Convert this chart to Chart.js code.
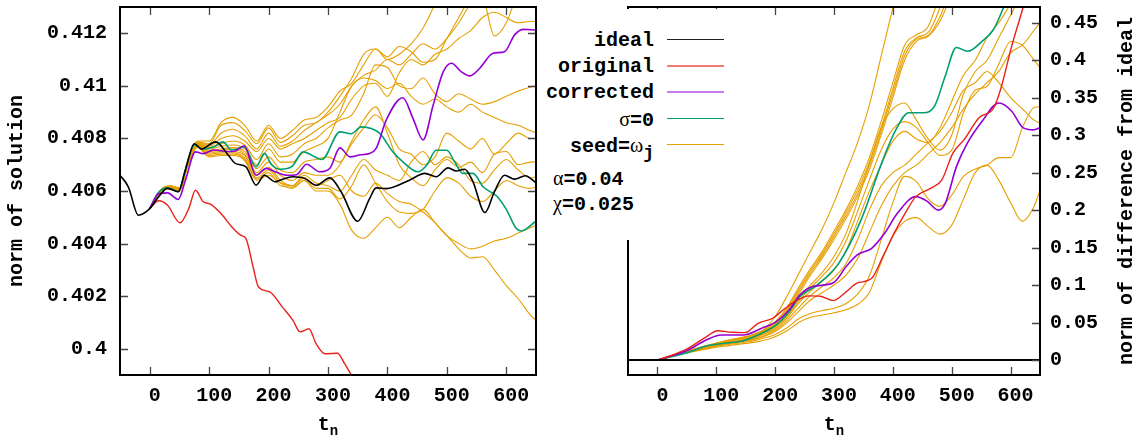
<!DOCTYPE html>
<html>
<head>
<meta charset="utf-8">
<script src="https://cdn.jsdelivr.net/npm/chart.js@4.4.1/dist/chart.umd.min.js"></script>
<style>
  body { margin: 0; background: #fff; }
  #wrap { position: relative; width: 1137px; height: 440px; overflow: hidden;
          font-family: 'Liberation Mono', 'DejaVu Sans Mono', monospace; font-weight: bold; font-size: 20px; color: #000; }
  canvas { position: absolute; top: 0; }
  .lbl { position: absolute; white-space: nowrap; line-height: 26px; }
  .gk { font-family: 'Liberation Serif', 'DejaVu Serif', serif; font-weight: normal; }
  .key { position: absolute; left: 667px; width: 57px; height: 1.6px; }
  .ytitle { position: absolute; width: 400px; text-align: center; line-height: 24px; transform: rotate(-90deg); white-space: nowrap; }
  .xtitle { position: absolute; width: 200px; text-align: center; line-height: 24px; }
  .sub { position: relative; top: 5px; font-size: 14px; }
</style>
</head>
<body>
<div id="wrap">
  <canvas id="leftChart" width="560" height="440" style="left:0"></canvas>
  <canvas id="rightChart" width="577" height="440" style="left:560px"></canvas>

  <div class="ytitle" style="left:-183px; top:179px">norm of solution</div>
  <div class="ytitle" style="left:927px; top:179px">norm of difference from ideal</div>
  <div class="xtitle" style="left:228px; top:413px">t<span class="sub">n</span></div>
  <div class="xtitle" style="left:734px; top:413px">t<span class="sub">n</span></div>

  <div style="position:absolute; left:540px; top:9px; width:195px; height:231px; background:#fff"></div>
  <div class="lbl" style="right:483px; top:28px">ideal</div>
  <div class="lbl" style="right:483px; top:54px">original</div>
  <div class="lbl" style="right:483px; top:80px">corrected</div>
  <div class="lbl" style="right:483px; top:106px"><span class="gk">σ</span>=0</div>
  <div class="lbl" style="right:483px; top:132px">seed=<span class="gk">ω</span><span style="position:relative; top:6px; font-size:18px">j</span></div>
  <div class="key" style="top:38.5px; background:#222"></div>
  <div class="key" style="top:65px; background:#f07b72"></div>
  <div class="key" style="top:91px; background:#c77cf0"></div>
  <div class="key" style="top:117.5px; background:#009e73"></div>
  <div class="key" style="top:143.5px; background:#e69f00"></div>
  <div class="lbl" style="left:553px; top:165px"><span class="gk">α</span>=0.04</div>
  <div class="lbl" style="left:553px; top:190px"><span class="gk">χ</span>=0.025</div>
</div>
<script>
const xTickValues = [0, 100, 200, 300, 400, 500, 600];
const leftTickValues = [0.4, 0.402, 0.404, 0.406, 0.408, 0.41, 0.412];
const rightTickValues = [0, 0.05, 0.1, 0.15, 0.2, 0.25, 0.3, 0.35, 0.4, 0.45];

// left panel: norm of solution, [t, value]
const idealLeft = [[-50,0.4066],[-36,0.40616],[-19,0.40508],[0,0.40533],[15,0.40578],[30,0.4061],[48,0.40597],[60,0.4068],[75,0.4078],[87,0.4076],[111,0.40787],[132,0.40737],[144,0.40705],[162,0.40692],[179,0.40622],[193,0.4066],[211,0.40635],[219,0.40641],[241,0.40654],[261,0.40648],[280,0.40622],[303,0.4065],[322,0.40597],[350,0.40485],[370,0.40571],[381,0.40612],[398,0.40609],[437,0.40641],[463,0.40667],[482,0.40654],[502,0.40688],[516,0.40676],[530,0.40683],[544,0.40635],[564,0.40518],[580,0.40597],[597,0.4066],[614,0.40645],[632,0.40658],[650,0.40631]];
const originalLeft = [[0,0.40533],[15,0.40563],[30,0.40546],[51,0.40479],[66,0.40535],[77,0.40603],[90,0.40559],[102,0.4055],[120,0.40514],[138,0.40464],[153,0.40432],[162,0.40419],[174,0.40311],[183,0.40235],[202,0.40216],[223,0.40159],[241,0.40108],[253,0.40064],[268,0.40076],[280,0.40019],[295,0.39981],[316,0.39983],[328,0.39943],[340,0.39898],[400,0.3975],[500,0.395],[650,0.3915]];
const correctedLeft = [[0,0.40533],[15,0.4059],[30,0.40593],[48,0.40568],[60,0.4064],[77,0.40749],[90,0.40742],[108,0.40756],[132,0.4075],[144,0.40752],[159,0.40772],[179,0.4066],[196,0.40686],[211,0.40673],[232,0.4066],[247,0.40662],[264,0.40702],[286,0.40673],[303,0.40686],[320,0.40764],[337,0.4073],[355,0.40738],[370,0.40743],[381,0.40762],[398,0.4087],[426,0.40955],[443,0.40876],[460,0.40794],[477,0.40927],[494,0.41054],[508,0.41086],[524,0.41054],[539,0.41038],[555,0.41066],[578,0.41124],[597,0.4113],[614,0.41194],[629,0.41215],[650,0.41212]];
const sigma0Left = [[0,0.40533],[15,0.40595],[30,0.40612],[48,0.40597],[60,0.4068],[75,0.40775],[90,0.40759],[108,0.40768],[123,0.40787],[138,0.40756],[159,0.40768],[179,0.40692],[193,0.40743],[205,0.407],[220,0.40683],[240,0.40695],[258,0.40749],[290,0.4072],[320,0.40825],[339,0.40818],[356,0.40844],[387,0.40819],[409,0.40749],[426,0.40711],[451,0.40673],[466,0.40698],[482,0.40755],[500,0.40755],[513,0.40711],[527,0.40667],[544,0.40667],[561,0.40616],[585,0.40578],[600,0.4053],[617,0.40457],[625,0.40448],[650,0.40485]];

const seedTimesLeft = [0,20,35,50,65,80,100,120,140,160,180,200,220,240,260,280,300,320,340,360,380,400,420,440,460,480,500,520,540,560,580,600,620,640,650];
const seedsLeft = [
  [0.40533,0.40608,0.4062,0.40612,0.40725,0.4079,0.4079,0.4086,0.4088,0.4085,0.4079,0.4085,0.408,0.4083,0.4087,0.4088,0.4092,0.4098,0.4101,0.4108,0.4114,0.411,0.4112,0.4116,0.4122,0.4131,0.414,0.4148,0.4155,0.416,0.416,0.416,0.416,0.416,0.416],
  [0.40533,0.40607,0.40619,0.40611,0.40723,0.40787,0.4078,0.4085,0.4086,0.4083,0.4078,0.4084,0.40785,0.4081,0.4085,0.4086,0.409,0.4096,0.4103,0.4112,0.4114,0.4111,0.4115,0.4113,0.4109,0.411,0.4118,0.4126,0.4134,0.414,0.4145,0.415,0.415,0.415,0.415],
  [0.40533,0.40606,0.40618,0.4061,0.4072,0.40784,0.40775,0.4082,0.40835,0.4081,0.4076,0.4082,0.4077,0.4079,0.4083,0.4086,0.4089,0.4093,0.41,0.4104,0.4106,0.411,0.4108,0.4112,0.4116,0.4114,0.4118,0.4124,0.4131,0.4133,0.4119,0.4124,0.4136,0.4145,0.415],
  [0.40533,0.40605,0.40617,0.40609,0.40718,0.40782,0.4077,0.408,0.4081,0.4079,0.4075,0.408,0.4076,0.4078,0.408,0.4083,0.4086,0.4088,0.4095,0.41,0.4101,0.4096,0.4105,0.411,0.4108,0.4112,0.4114,0.4118,0.4121,0.4126,0.4128,0.4126,0.4124,0.41245,0.41245],
  [0.40533,0.40605,0.40616,0.40608,0.40716,0.4078,0.40765,0.4078,0.4079,0.40775,0.4072,0.4078,0.4073,0.4074,0.4078,0.408,0.4084,0.4087,0.4089,0.4097,0.4108,0.4107,0.41,0.4099,0.4103,0.4097,0.4094,0.4097,0.4095,0.4093,0.4094,0.4096,0.4098,0.40995,0.41],
  [0.40533,0.40604,0.40615,0.40607,0.40714,0.40778,0.4076,0.4077,0.40775,0.4076,0.407,0.4076,0.4071,0.4071,0.4075,0.4077,0.408,0.409,0.41,0.4103,0.4102,0.4099,0.4101,0.4096,0.4093,0.4095,0.4092,0.409,0.4093,0.409,0.4088,0.4086,0.4085,0.4083,0.40822],
  [0.40533,0.40604,0.40614,0.40606,0.40712,0.40776,0.40755,0.4076,0.40765,0.4075,0.40685,0.4073,0.4068,0.4067,0.4071,0.4072,0.4073,0.4071,0.4078,0.4084,0.4089,0.4084,0.4076,0.4074,0.407,0.4073,0.4082,0.4079,0.4076,0.408,0.4074,0.4078,0.4082,0.408,0.408],
  [0.40533,0.40603,0.40613,0.40605,0.4071,0.40774,0.4075,0.40755,0.4076,0.4074,0.4067,0.4071,0.4066,0.4064,0.4067,0.4066,0.4066,0.407,0.4079,0.4087,0.4092,0.4082,0.407,0.4065,0.4062,0.4068,0.4072,0.4069,0.4071,0.4067,0.4074,0.4075,0.407,0.4071,0.40711],
  [0.40533,0.40603,0.40612,0.40604,0.40708,0.40772,0.40745,0.4075,0.4075,0.40735,0.4066,0.4069,0.4064,0.4062,0.4066,0.4063,0.4062,0.406,0.4066,0.4072,0.4068,0.4066,0.4064,0.4071,0.4075,0.407,0.4073,0.407,0.4064,0.4063,0.4068,0.4072,0.4068,0.4065,0.40654],
  [0.40533,0.40602,0.40611,0.40603,0.40706,0.4077,0.4074,0.40745,0.40745,0.40725,0.4065,0.4068,0.4063,0.4061,0.4064,0.4061,0.4061,0.4057,0.4062,0.407,0.4063,0.4056,0.4052,0.40515,0.4053,0.406,0.4065,0.4063,0.4058,0.4056,0.406,0.4064,0.4062,0.4061,0.40616],
  [0.40533,0.40602,0.4061,0.40602,0.40704,0.40768,0.40735,0.4074,0.4074,0.4072,0.40645,0.4067,0.4062,0.40615,0.4064,0.406,0.406,0.4055,0.4045,0.4042,0.4046,0.405,0.4046,0.405,0.4053,0.4048,0.4043,0.404,0.4038,0.4039,0.4041,0.4042,0.4044,0.4046,0.4047],
  [0.40533,0.40602,0.4061,0.406,0.40702,0.40766,0.4073,0.40735,0.40735,0.40715,0.4064,0.4066,0.4063,0.4062,0.4065,0.4062,0.4064,0.4066,0.406,0.4058,0.4063,0.4059,0.4056,0.4055,0.4052,0.4048,0.4043,0.4038,0.40345,0.4035,0.403,0.4024,0.4019,0.4013,0.40108]
];

// right panel: norm of difference from ideal, [t, value]
const idealRight = [[-50,0],[650,0]];
const originalRight = [[0,0],[20,0.005],[52,0.0156],[83,0.031],[102,0.039],[127,0.037],[149,0.0365],[171,0.049],[196,0.0557],[214,0.067],[233,0.078],[258,0.0856],[277,0.085],[299,0.0793],[321,0.0913],[339,0.1025],[364,0.109],[383,0.138],[402,0.169],[421,0.196],[439,0.218],[464,0.229],[483,0.24],[502,0.276],[521,0.294],[546,0.323],[571,0.336],[583,0.361],[602,0.419],[621,0.47],[650,0.56]];
const correctedRight = [[0,0],[20,0.0045],[52,0.0134],[83,0.0267],[108,0.0334],[146,0.0334],[177,0.0423],[202,0.0512],[224,0.067],[242,0.0869],[264,0.098],[299,0.103],[321,0.125],[339,0.14],[364,0.149],[386,0.169],[408,0.196],[439,0.218],[458,0.212],[477,0.2],[489,0.209],[508,0.258],[527,0.29],[552,0.319],[580,0.343],[602,0.332],[621,0.31],[639,0.307],[650,0.31]];
const sigma0Right = [[0,0],[20,0.0038],[52,0.0102],[83,0.0187],[114,0.0223],[146,0.0258],[177,0.0356],[202,0.0468],[224,0.0646],[242,0.0847],[271,0.1],[308,0.129],[346,0.187],[383,0.267],[405,0.307],[427,0.33],[452,0.33],[471,0.339],[489,0.379],[508,0.417],[527,0.412],[552,0.4255],[571,0.441],[589,0.472],[620,0.53],[650,0.58]];

const seedTimesRight = [0,20,40,60,80,100,120,140,160,180,200,220,240,260,280,300,320,340,360,380,400,420,440,460,480,500,520,540,560,580,600,620,640,650];
const seedsRight = [
  [0,0.005,0.01,0.014,0.018,0.022,0.026,0.029,0.033,0.04,0.058,0.085,0.115,0.145,0.175,0.21,0.25,0.29,0.34,0.405,0.47,0.54,0.6,0.66,0.7,0.74,0.78,0.82,0.86,0.9,0.94,0.98,1.02,1.04],
  [0,0.005,0.0098,0.0142,0.0185,0.0225,0.0265,0.0295,0.0335,0.04,0.051,0.07,0.097,0.122,0.145,0.172,0.2,0.232,0.27,0.318,0.37,0.42,0.434,0.445,0.49,0.55,0.6,0.65,0.7,0.75,0.8,0.85,0.9,0.92],
  [0,0.0049,0.0096,0.014,0.018,0.022,0.026,0.029,0.033,0.039,0.05,0.068,0.094,0.119,0.142,0.168,0.196,0.227,0.264,0.31,0.362,0.412,0.43,0.437,0.47,0.52,0.57,0.62,0.67,0.72,0.77,0.82,0.87,0.9],
  [0,0.0048,0.0095,0.0136,0.0176,0.0215,0.0252,0.0282,0.032,0.038,0.048,0.066,0.091,0.116,0.139,0.165,0.192,0.222,0.259,0.305,0.356,0.406,0.428,0.433,0.458,0.5,0.55,0.6,0.65,0.7,0.75,0.8,0.85,0.87],
  [0,0.0047,0.0093,0.0132,0.0172,0.021,0.0245,0.0275,0.031,0.037,0.047,0.064,0.088,0.113,0.136,0.161,0.188,0.218,0.254,0.3,0.35,0.4,0.425,0.432,0.452,0.49,0.54,0.59,0.64,0.69,0.74,0.79,0.84,0.86],
  [0,0.0046,0.009,0.0128,0.0166,0.0205,0.0238,0.0265,0.03,0.036,0.045,0.06,0.082,0.1,0.117,0.138,0.168,0.212,0.262,0.31,0.335,0.343,0.32,0.295,0.28,0.3,0.355,0.385,0.4,0.43,0.46,0.49,0.52,0.53],
  [0,0.0045,0.0088,0.0125,0.0162,0.02,0.0232,0.0258,0.029,0.035,0.044,0.058,0.079,0.096,0.112,0.13,0.158,0.198,0.24,0.28,0.308,0.318,0.31,0.29,0.273,0.28,0.33,0.36,0.365,0.395,0.425,0.42,0.4,0.39],
  [0,0.0045,0.0087,0.0122,0.0158,0.0195,0.0227,0.0252,0.0285,0.034,0.042,0.056,0.076,0.092,0.105,0.12,0.145,0.185,0.225,0.26,0.292,0.305,0.295,0.29,0.31,0.345,0.38,0.4,0.43,0.45,0.475,0.5,0.52,0.53],
  [0,0.0044,0.0085,0.012,0.0155,0.019,0.0222,0.0246,0.0275,0.032,0.04,0.053,0.07,0.086,0.098,0.11,0.128,0.16,0.2,0.232,0.25,0.26,0.275,0.29,0.305,0.33,0.36,0.37,0.385,0.37,0.35,0.335,0.32,0.316],
  [0,0.0044,0.0084,0.0118,0.0152,0.0186,0.0217,0.024,0.0265,0.031,0.038,0.05,0.065,0.08,0.09,0.1,0.113,0.135,0.17,0.205,0.232,0.25,0.26,0.275,0.29,0.31,0.335,0.355,0.37,0.385,0.41,0.42,0.44,0.45],
  [0,0.0043,0.0082,0.0115,0.0147,0.018,0.0207,0.0228,0.025,0.029,0.034,0.043,0.055,0.062,0.066,0.069,0.075,0.088,0.112,0.16,0.21,0.245,0.238,0.215,0.205,0.22,0.245,0.255,0.26,0.27,0.27,0.31,0.337,0.338],
  [0,0.0042,0.008,0.011,0.014,0.017,0.0192,0.0212,0.0232,0.026,0.031,0.039,0.05,0.057,0.06,0.063,0.067,0.074,0.09,0.13,0.165,0.185,0.19,0.178,0.168,0.18,0.215,0.25,0.26,0.24,0.21,0.185,0.205,0.227]
];

const BLACK = '#000000', RED = '#e8221a', PURPLE = '#9400d3', TEAL = '#009e73', ORANGE = '#e69f00';
const tickFont = { family: "'Liberation Mono', 'DejaVu Sans Mono', monospace", size: 20, weight: 'bold' };

function pairs(arr) {
  return arr.map(p => ({ x: p[0], y: p[1] }));
}

function onGrid(times, vals) {
  return vals.map((v, i) => ({ x: times[i], y: v }));
}

function line(data, color, width) {
  return { data, borderColor: color, borderWidth: width, pointRadius: 0, fill: false,
           cubicInterpolationMode: 'monotone' };
}

// gnuplot style box with thin inward ticks
function frameTicks(sides) {
  return {
    id: 'frameTicks',
    afterDatasetsDraw(chart) {
      const ctx = chart.ctx, a = chart.chartArea;
      const xs = chart.scales.x, ys = chart.scales.y;
      ctx.save();
      ctx.strokeStyle = '#444';
      ctx.lineWidth = 1.3;
      ctx.beginPath();
      xs.ticks.forEach(t => {
        const px = Math.round(xs.getPixelForValue(t.value)) + 0.5;
        ctx.moveTo(px, a.bottom); ctx.lineTo(px, a.bottom - 8);
        ctx.moveTo(px, a.top); ctx.lineTo(px, a.top + 8);
      });
      ys.ticks.forEach(t => {
        const py = Math.round(ys.getPixelForValue(t.value)) + 0.5;
        if (sides.left) { ctx.moveTo(a.left, py); ctx.lineTo(a.left + 8, py); }
        if (sides.right) { ctx.moveTo(a.right, py); ctx.lineTo(a.right - 8, py); }
      });
      ctx.stroke();
      ctx.strokeStyle = '#000';
      ctx.lineWidth = 2;
      ctx.strokeRect(a.left, a.top, a.right - a.left, a.bottom - a.top);
      ctx.restore();
    }
  };
}

function makeChart(id, datasets, o) {
  return new Chart(document.getElementById(id), {
    type: 'line',
    data: { datasets },
    options: {
      responsive: false,
      animation: false,
      devicePixelRatio: 1,
      layout: { padding: o.padding },
      plugins: { legend: { display: false }, tooltip: { enabled: false } },
      scales: {
        x: {
          type: 'linear', min: -50, max: 650,
          grid: { display: false, drawTicks: false },
          border: { display: false },
          ticks: { autoSkip: false, maxRotation: 0, padding: 9, labelOffset: 5, color: '#000', font: tickFont,
                   callback: v => String(v) },
          afterBuildTicks: s => { s.ticks = xTickValues.map(v => ({ value: v })); },
          afterFit: s => { s.height = 65; s.paddingLeft = 0; s.paddingRight = 0; }
        },
        y: {
          type: 'linear', position: o.yPos, min: o.yMin, max: o.yMax,
          grid: { display: false, drawTicks: false },
          border: { display: false },
          ticks: { autoSkip: false, padding: o.yPad, color: '#000', font: tickFont, callback: o.fmt },
          afterBuildTicks: s => { s.ticks = o.yTicks.map(v => ({ value: v })); },
          afterFit: s => { s.width = o.yWidth; s.paddingTop = 0; s.paddingBottom = 0; }
        }
      }
    },
    plugins: [frameTicks(o.sides)]
  });
}

// first dataset is drawn on top
const leftSets = [
  line(pairs(idealLeft), BLACK, 1.6),
  line(pairs(originalLeft), RED, 1.4),
  line(pairs(correctedLeft), PURPLE, 1.6),
  line(pairs(sigma0Left), TEAL, 1.6)
].concat(seedsLeft.map(s => line(onGrid(seedTimesLeft, s), ORANGE, 1.1)));

const rightSets = [
  line(pairs(idealRight), BLACK, 2),
  line(pairs(originalRight), RED, 1.4),
  line(pairs(correctedRight), PURPLE, 1.6),
  line(pairs(sigma0Right), TEAL, 1.6)
].concat(seedsRight.map(s => line(onGrid(seedTimesRight, s), ORANGE, 1.1)));

makeChart('leftChart', leftSets, {
  padding: { top: 7, right: 24, left: 0, bottom: 0 },
  yPos: 'left', yMin: 0.399, yMax: 0.413, yTicks: leftTickValues, yWidth: 120, yPad: 13,
  fmt: v => String(Number(v.toFixed(3))),
  sides: { left: true, right: true }
});

makeChart('rightChart', rightSets, {
  padding: { top: 7, right: 0, left: 68, bottom: 0 },
  yPos: 'right', yMin: -0.02, yMax: 0.471, yTicks: rightTickValues, yWidth: 97, yPad: 10,
  fmt: v => String(Number(v.toFixed(2))),
  sides: { left: false, right: true }
});
</script>
</body>
</html>
